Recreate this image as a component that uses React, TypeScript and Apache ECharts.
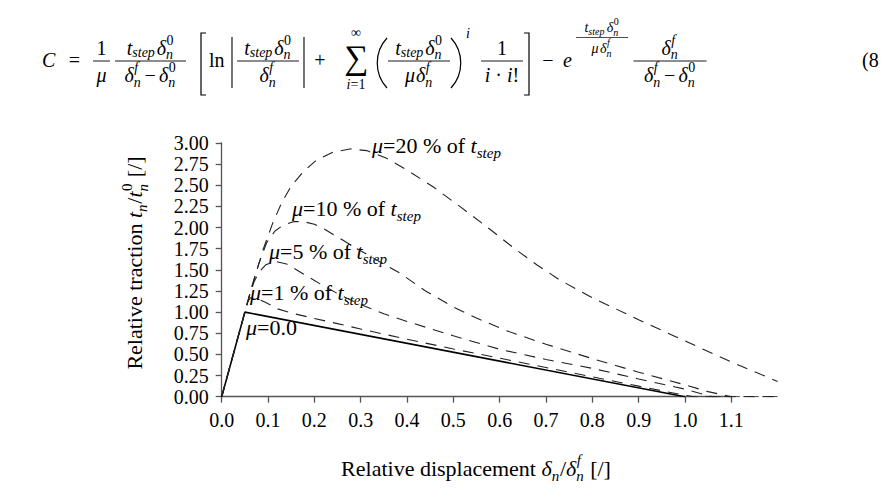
import React, { useEffect, useRef } from 'react';
import * as echarts from 'echarts';

// ---------- data ----------
const X_TICK_LABELS = ['0.0', '0.1', '0.2', '0.3', '0.4', '0.5', '0.6', '0.7', '0.8', '0.9', '1.0', '1.1'];
const Y_TICK_LABELS = ['0.00', '0.25', '0.50', '0.75', '1.00', '1.25', '1.50', '1.75', '2.00', '2.25', '2.50', '2.75', '3.00'];

const MU0_X = [0, 0.05, 1.0];
const MU0_Y = [0, 1.0, 0];

const MU1_X = [0, 0.05, 0.056, 0.062, 0.07, 0.08, 0.093, 0.12, 0.15, 0.2, 0.245, 0.3, 0.35, 0.4, 0.5, 0.6, 0.7, 0.8, 0.9, 0.95, 1.0, 1.02, 1.2];
const MU1_Y = [0, 1.0, 1.12, 1.17, 1.17, 1.15, 1.12, 1.04, 0.99, 0.925, 0.87, 0.8, 0.74, 0.68, 0.565, 0.455, 0.345, 0.235, 0.125, 0.07, 0.018, 0, 0];

const MU5_X = [0, 0.05, 0.06, 0.07, 0.08, 0.095, 0.115, 0.14, 0.18, 0.22, 0.26, 0.3, 0.35, 0.4, 0.5, 0.6, 0.7, 0.8, 0.9, 1.0, 1.05, 1.06, 1.2];
const MU5_Y = [0, 1.0, 1.2, 1.36, 1.47, 1.56, 1.6, 1.57, 1.44, 1.31, 1.19, 1.09, 0.98, 0.89, 0.72, 0.56, 0.44, 0.335, 0.21, 0.09, 0.01, 0, 0];

const MU10_X = [0, 0.05, 0.065, 0.08, 0.097, 0.115, 0.133, 0.155, 0.176, 0.2, 0.219, 0.262, 0.292, 0.327, 0.385, 0.44, 0.5, 0.55, 0.615, 0.7, 0.8, 0.9, 1.0, 1.05, 1.1, 1.2];
const MU10_Y = [0, 1.0, 1.3, 1.57, 1.82, 1.96, 2.03, 2.07, 2.07, 2.04, 1.99, 1.85, 1.75, 1.64, 1.46, 1.25, 1.06, 0.93, 0.78, 0.62, 0.45, 0.29, 0.14, 0.06, 0, 0];

const MU20_X = [0, 0.05, 0.07, 0.09, 0.11, 0.13, 0.15, 0.176, 0.205, 0.24, 0.277, 0.313, 0.356, 0.4, 0.457, 0.514, 0.572, 0.63, 0.68, 0.73, 0.8, 0.85, 0.9, 1.0, 1.1, 1.2];
const MU20_Y = [0, 1.0, 1.39, 1.75, 2.05, 2.3, 2.49, 2.66, 2.8, 2.89, 2.93, 2.91, 2.82, 2.68, 2.48, 2.25, 2.01, 1.76, 1.56, 1.38, 1.17, 1.04, 0.91, 0.66, 0.41, 0.18];

const CURVE_LABELS = ['20', '10', '5', '1'];

// ---------- mini math-text layout ----------
const SERIF = "'Liberation Serif', 'Times New Roman', serif";
const BLACK = '#000';
const AXIS = '#555';
let _ctx: any = null;
function mw(s: string, size: number, it: boolean): number {
  if (!_ctx) _ctx = document.createElement('canvas').getContext('2d');
  _ctx.font = `${it ? 'italic ' : ''}${size}px ${SERIF}`;
  return _ctx.measureText(s).width;
}
type Box = { w: number; r: (x: number, b: number) => any[] };
const T = (s: string, size: number, it = false): Box => ({
  w: mw(s, size, it),
  r: (x, b) => [{
    type: 'text', x, y: b - 0.34 * size, silent: true,
    style: {
      text: s, fontFamily: SERIF, fontSize: size, fontStyle: it ? 'italic' : 'normal',
      fill: BLACK, align: 'left', verticalAlign: 'middle',
    },
  }],
});
const I = (s: string, size: number) => T(s, size, true);
const Sp = (w: number): Box => ({ w, r: () => [] });
const Row = (...bs: Box[]): Box => ({
  w: bs.reduce((a, b) => a + b.w, 0),
  r: (x, b) => {
    const out: any[] = [];
    let cx = x;
    for (const bx of bs) { out.push(...bx.r(cx, b)); cx += bx.w; }
    return out;
  },
});
const Scr = (base: Box, sup: Box | null, sub: Box | null, supDy: number, subDy: number, supDx = 0.5, subDx = 0): Box => ({
  w: base.w + Math.max(sup ? sup.w + supDx : 0, sub ? sub.w + subDx : 0) + 0.8,
  r: (x, b) => [
    ...base.r(x, b),
    ...(sup ? sup.r(x + base.w + supDx, b + supDy) : []),
    ...(sub ? sub.r(x + base.w + subDx, b + subDy) : []),
  ],
});
const Frac = (num: Box, den: Box, barW: number, axisDy: number, numDy: number, denDy: number, lw = 0.9): Box => ({
  w: barW,
  r: (x, b) => {
    const ay = b + axisDy;
    return [
      ...num.r(x + (barW - num.w) / 2, ay + numDy),
      ...den.r(x + (barW - den.w) / 2, ay + denDy),
      { type: 'line', silent: true, shape: { x1: x, y1: ay, x2: x + barW, y2: ay }, style: { stroke: BLACK, lineWidth: lw } },
    ];
  },
});
const At = (bx: Box, x: number, b: number, align: 'left' | 'center' = 'center') => bx.r(align === 'center' ? x - bx.w / 2 : x, b);
const ln = (x1: number, y1: number, x2: number, y2: number, w = 1.1) => ({ type: 'line', silent: true, shape: { x1, y1, x2, y2 }, style: { stroke: BLACK, lineWidth: w } });

function equation(): any[] {
  const M = 20, s = 14;
  const B = 66.5, AX = -5.5, ND = -6.5, DD = 21;
  const tstep = () => Scr(I('t', M), null, I('step', s), 0, 3);
  const d0 = () => Scr(I('δ', M), T('0', s), I('n', s), -9.5, 5);
  const df = () => Scr(I('δ', M), I('f', s), I('n', s), -9.5, 5);
  const minus = () => Row(Sp(3), T('−', M), Sp(3));
  const els: any[] = [];
  els.push(...At(I('C', M), 42, B, 'left'));
  els.push(...At(T('=', M), 74.5, B));
  els.push(...At(Frac(T('1', M), I('μ', M), 17, AX, ND, DD), 101.5, B));
  els.push(...At(Frac(Row(tstep(), Sp(1), d0()), Row(df(), minus(), d0()), 71, AX, ND, DD), 150.5, B));
  els.push({ type: 'polyline', silent: true, shape: { points: [[206, 33], [201, 33], [201, 95], [206, 95]] }, style: { stroke: BLACK, lineWidth: 1.2, fill: null } });
  els.push(...At(T('ln', M), 209, B, 'left'));
  els.push(ln(232, 37, 232, 88));
  els.push(...At(Frac(Row(tstep(), Sp(1), d0()), df(), 62, AX, ND, DD), 268, B));
  els.push(ln(304, 37, 304, 88));
  els.push(...At(T('+', M), 320, B));
  els.push(...At(T('∑', 34), 356, 69));
  els.push(...At(T('∞', s), 356, 37));
  els.push(...At(Row(I('i', s), T('=1', s)), 356, 89));
  els.push({ type: 'bezierCurve', silent: true, shape: { x1: 387, y1: 38, cpx1: 374, cpy1: 52, cpx2: 374, cpy2: 74, x2: 387, y2: 88 }, style: { stroke: BLACK, lineWidth: 1.2, fill: null } });
  els.push(...At(Frac(Row(tstep(), Sp(1), d0()), Row(I('μ', M), Sp(1), df()), 62, AX, ND, DD), 419, B));
  els.push({ type: 'bezierCurve', silent: true, shape: { x1: 451, y1: 38, cpx1: 464, cpy1: 52, cpx2: 464, cpy2: 74, x2: 451, y2: 88 }, style: { stroke: BLACK, lineWidth: 1.2, fill: null } });
  els.push(...At(I('i', s), 466, 38, 'left'));
  els.push(...At(Frac(T('1', M), Row(I('i', M), T(' · ', M), I('i', M), T('!', M)), 42, AX, ND, DD), 502, B));
  els.push({ type: 'polyline', silent: true, shape: { points: [[524, 33], [529, 33], [529, 95], [524, 95]] }, style: { stroke: BLACK, lineWidth: 1.2, fill: null } });
  els.push(...At(T('−', M), 548, B));
  els.push(...At(I('e', M), 563, B, 'left'));
  const es = 14, ess = 10;
  const eNum = Row(Scr(I('t', es), null, I('step', ess), 0, 3), Sp(1.5), Scr(I('δ', es), T('0', ess), I('n', ess), -7, 3.5));
  const eDen = Row(I('μ', es), Sp(1.5), Scr(I('δ', es), I('f', ess), I('n', ess), -7, 3.5));
  els.push(...At(Frac(eNum, eDen, 52, -29, -5.5, 15.5, 0.7), 602, B));
  els.push(...At(Frac(df(), Row(df(), minus(), d0()), 73, AX, ND, DD), 670, B));
  els.push(...At(T('(8', M), 862, B, 'left'));
  return els;
}

function curveLabels(): any[] {
  const L = 22, Ls = 15;
  const lab = (pct: string) => Row(I('μ', L), T(`=${pct} % of `, L), Scr(I('t', L), null, I('step', Ls), 0, 5));
  const pos: [number, number][] = [[372, 153], [292, 216], [269, 259], [250, 300]];
  const out: any[] = [];
  CURVE_LABELS.forEach((p, i) => out.push(...At(lab(p), pos[i][0], pos[i][1], 'left')));
  out.push(...At(Row(I('μ', L), T('=0.0', L)), 246, 335, 'left'));
  return out;
}

function axisNames(): any[] {
  const N = 22, n = 15;
  const xName = Row(T('Relative displacement ', N), Scr(I('δ', N), null, I('n', n), 0, 5), T('/', N),
    Scr(I('δ', N), I('f', n), I('n', n), -10.5, 5.5), T(' [/]', N));
  const yName = Row(T('Relative traction ', N), Scr(I('t', N), null, I('n', n), 0, 5), T('/', N),
    Scr(I('t', N), T('0', n), I('n', n), -10.5, 5.5), T(' [/]', N));
  return [
    ...At(xName, 476, 476),
    { type: 'group', x: 142.3, y: 263, rotation: Math.PI / 2, silent: true, children: At(yName, 0, 0) },
  ];
}

const pairs = (xs: number[], ys: number[]) => xs.map((x, i) => [x, ys[i]]);

function buildOption(): any {
  const dashed = (name: string, xs: number[], ys: number[]) => ({
    name, type: 'line', xAxisIndex: 0, yAxisIndex: 0, data: pairs(xs, ys),
    symbol: 'none', smooth: false,
    lineStyle: { color: '#222', width: 1.1, type: [11, 8] }, z: 3,
  });
  return {
    animation: false,
    backgroundColor: '#fff',
    grid: [
      { left: 221.7, right: 105.4, top: 143, bottom: 91.3 },
      { left: 221.7, right: 151.7, top: 143, bottom: 91.3 },
    ],
    xAxis: [
      { type: 'value', gridIndex: 0, min: 0, max: 1.2, show: false },
      {
        type: 'value', gridIndex: 1, min: 0, max: 1.1, interval: 0.1,
        axisLine: { show: true, onZero: false, lineStyle: { color: AXIS, width: 1.3 } },
        axisTick: { show: true, inside: false, length: 6, lineStyle: { color: AXIS, width: 1.3 } },
        axisLabel: {
          margin: 13, color: BLACK, fontFamily: SERIF, fontSize: 20,
          formatter: (v: number) => X_TICK_LABELS[Math.round(v * 10)] ?? '',
        },
        splitLine: { show: false },
      },
    ],
    yAxis: [
      {
        type: 'value', gridIndex: 0, min: 0, max: 3, interval: 0.25,
        axisLine: { show: true, onZero: false, lineStyle: { color: AXIS, width: 1.3 } },
        axisTick: { show: true, inside: false, length: 6, lineStyle: { color: AXIS, width: 1.3 } },
        axisLabel: {
          margin: 13, color: BLACK, fontFamily: SERIF, fontSize: 20,
          formatter: (v: number) => Y_TICK_LABELS[Math.round(v * 4)] ?? '',
        },
        splitLine: { show: false },
      },
      { type: 'value', gridIndex: 1, min: 0, max: 3, show: false },
    ],
    series: [
      {
        name: 'μ=0.0', type: 'line', xAxisIndex: 0, yAxisIndex: 0, data: pairs(MU0_X, MU0_Y),
        symbol: 'none', lineStyle: { color: BLACK, width: 1.6, type: 'solid' }, z: 2,
      },
      dashed('μ=1 %', MU1_X, MU1_Y),
      dashed('μ=5 %', MU5_X, MU5_Y),
      dashed('μ=10 %', MU10_X, MU10_Y),
      dashed('μ=20 %', MU20_X, MU20_Y),
    ],
    graphic: { elements: [...equation(), ...curveLabels(), ...axisNames()] },
  };
}

export default function App() {
  const ref = useRef<HTMLDivElement>(null);
  useEffect(() => {
    document.body.style.margin = '0';
    const chart = echarts.init(ref.current!, null, { renderer: 'svg' });
    chart.setOption(buildOption());
    return () => chart.dispose();
  }, []);
  return <div ref={ref} style={{ width: 883, height: 488 }} />;
}
